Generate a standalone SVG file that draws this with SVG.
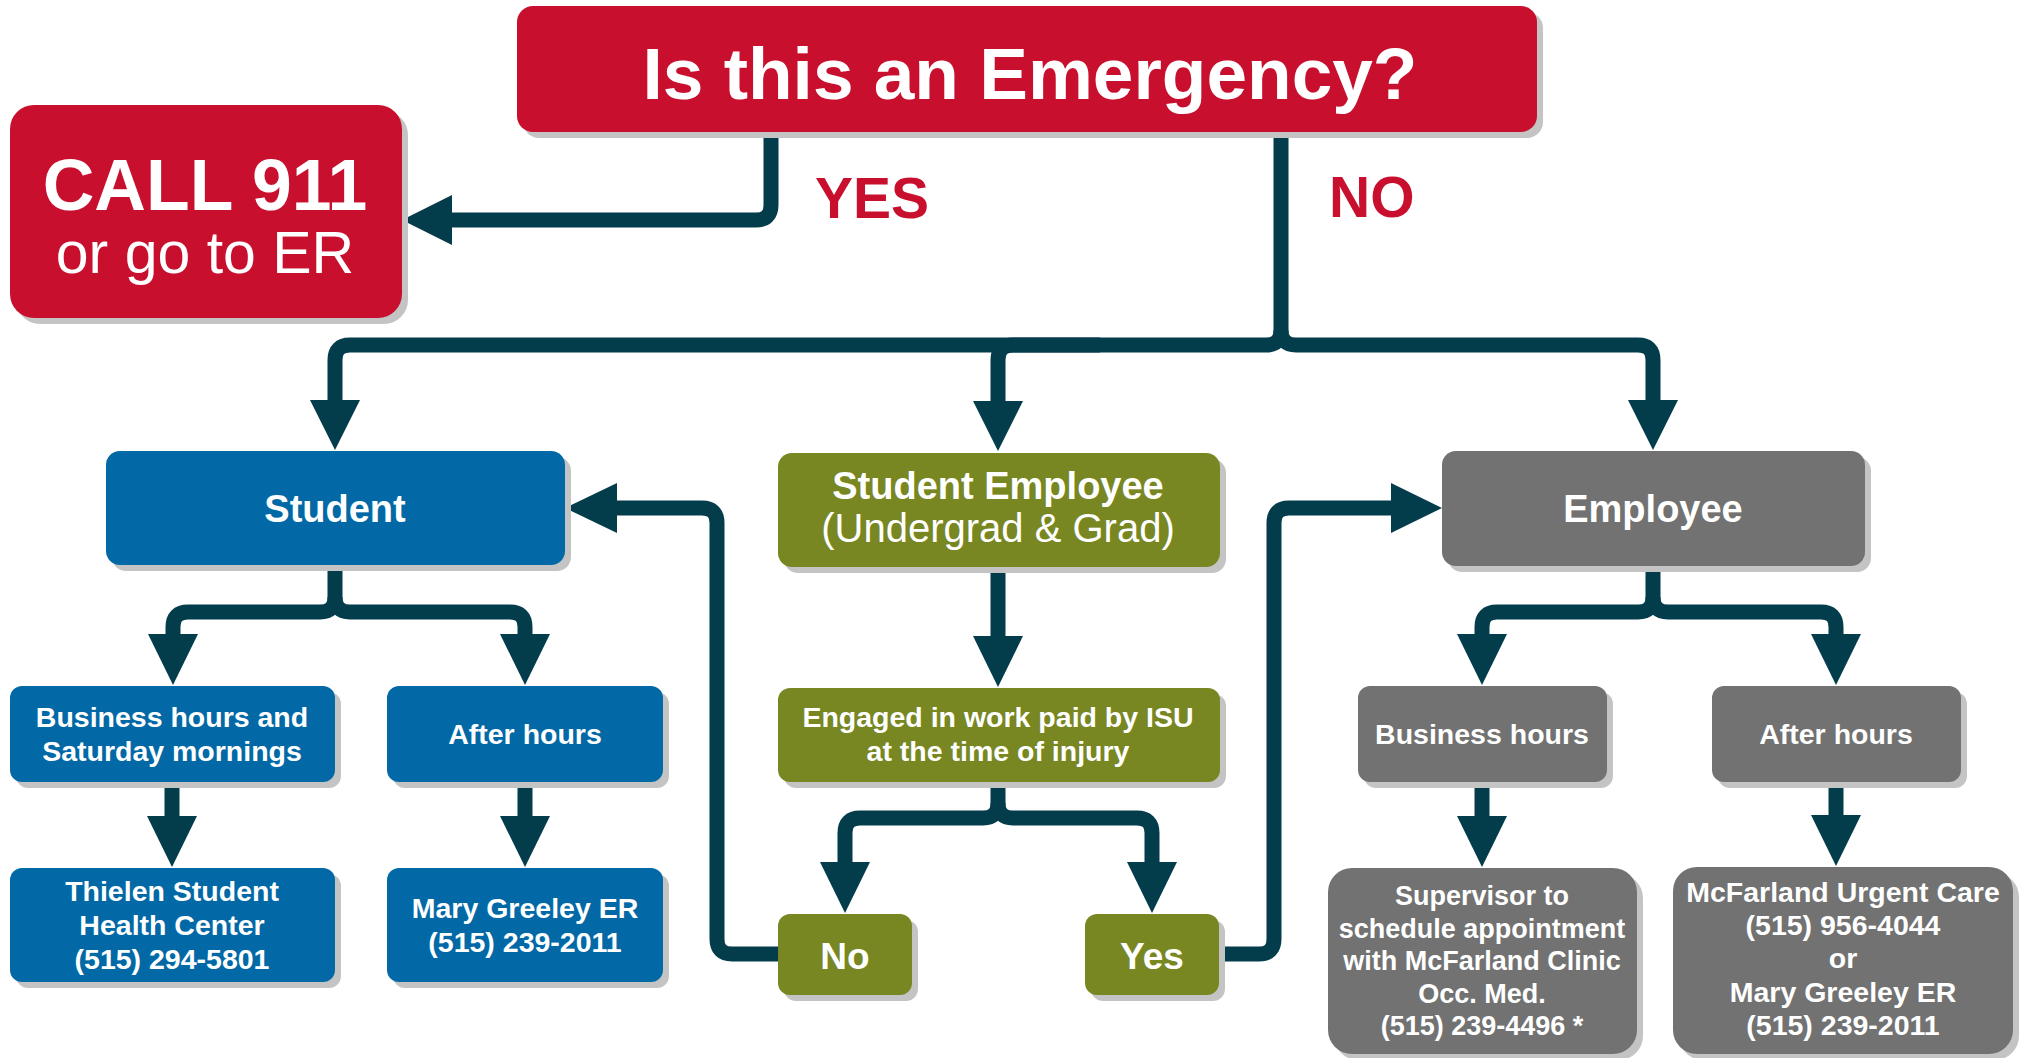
<svg xmlns="http://www.w3.org/2000/svg" width="2022" height="1058" viewBox="0 0 2022 1058">
<defs>
<style>
text{font-family:"Liberation Sans",Arial,Helvetica,sans-serif;fill:#ffffff;text-anchor:middle}
.b{font-weight:bold}
.sh{fill:#c4c4c4}
.red{fill:#c8102e}
.blue{fill:#0269a6}
.olive{fill:#788722}
.gray{fill:#717271}
.ln{fill:none;stroke:#033d4c;stroke-width:15}
.ah{fill:#033d4c}
.lbl{fill:#c8102e;font-weight:bold;font-size:57px;text-anchor:start}
.t28{font-size:28.5px;font-weight:bold}
</style>
</defs>
<rect width="2022" height="1058" fill="#ffffff"/>

<g id="connectors">
<path class="ln" d="M771 132 V205 Q771 220 756 220 H450"/>
<polygon class="ah" points="402,220 452,195 452,245"/>
<path class="ln" d="M1281 132 V330 Q1281 345 1266 345 H350 Q335 345 335 360 V402"/>
<path class="ln" d="M1281 330 Q1281 345 1296 345 H1638 Q1653 345 1653 360 V402"/>
<path class="ln" d="M1100 345 H1013 Q998 345 998 360 V402"/>
<polygon class="ah" points="335,450 310,400 360,400"/>
<polygon class="ah" points="998,451 973,401 1023,401"/>
<polygon class="ah" points="1653,450 1628,400 1678,400"/>
<path class="ln" d="M335 566 V597 Q335 612 320 612 H188 Q173 612 173 627 V636"/>
<path class="ln" d="M335 597 Q335 612 350 612 H510 Q525 612 525 627 V636"/>
<polygon class="ah" points="173,685 148,634 198,634"/>
<polygon class="ah" points="525,685 500,634 550,634"/>
<path class="ln" d="M998 567 V638"/>
<polygon class="ah" points="998,687 973,636 1023,636"/>
<path class="ln" d="M1653 566 V597 Q1653 612 1638 612 H1497 Q1482 612 1482 627 V636"/>
<path class="ln" d="M1653 597 Q1653 612 1668 612 H1821 Q1836 612 1836 627 V636"/>
<polygon class="ah" points="1482,685 1457,634 1507,634"/>
<polygon class="ah" points="1836,685 1811,634 1861,634"/>
<path class="ln" d="M172 782 V818"/>
<polygon class="ah" points="172,867 147,816 197,816"/>
<path class="ln" d="M525 782 V818"/>
<polygon class="ah" points="525,867 500,816 550,816"/>
<path class="ln" d="M1482 782 V818"/>
<polygon class="ah" points="1482,867 1457,816 1507,816"/>
<path class="ln" d="M1836 782 V818"/>
<polygon class="ah" points="1836,866 1811,815 1861,815"/>
<path class="ln" d="M998 782 V803 Q998 818 983 818 H860 Q845 818 845 833 V864"/>
<path class="ln" d="M998 803 Q998 818 1013 818 H1137 Q1152 818 1152 833 V864"/>
<polygon class="ah" points="845,913 820,862 870,862"/>
<polygon class="ah" points="1152,913 1127,862 1177,862"/>
<path class="ln" d="M780 954 H732 Q717 954 717 939 V523 Q717 508 702 508 H615"/>
<polygon class="ah" points="565,508 617,483 617,533"/>
<path class="ln" d="M1217 954 H1259 Q1274 954 1274 939 V523 Q1274 508 1289 508 H1393"/>
<polygon class="ah" points="1442,508 1391,483 1391,533"/>
<text class="lbl" x="815" y="218">YES</text>
<text class="lbl" x="1329" y="217">NO</text>
</g>

<g id="emergency">
<rect class="sh" x="523" y="12" width="1020" height="126" rx="16"/>
<rect class="red" x="517" y="6" width="1020" height="126" rx="16"/>
<text class="b" x="1030" y="99" font-size="73">Is this an Emergency?</text>
</g>

<g id="call911">
<rect class="sh" x="16" y="111" width="392" height="213" rx="24"/>
<rect class="red" x="10" y="105" width="392" height="213" rx="24"/>
<text class="b" x="205" y="210" font-size="71.5">CALL 911</text>
<text x="205" y="273" font-size="59">or go to ER</text>
</g>

<g id="student">
<rect class="sh" x="112" y="457" width="459" height="114" rx="14"/>
<rect class="blue" x="106" y="451" width="459" height="114" rx="14"/>
<text class="b" x="335" y="522" font-size="38">Student</text>
</g>

<g id="student-employee">
<rect class="sh" x="784" y="459" width="442" height="114" rx="14"/>
<rect class="olive" x="778" y="453" width="442" height="114" rx="14"/>
<text class="b" x="998" y="499" font-size="38">Student Employee</text>
<text x="998" y="542" font-size="40">(Undergrad &amp; Grad)</text>
</g>

<g id="employee">
<rect class="sh" x="1448" y="457" width="423" height="115" rx="14"/>
<rect class="gray" x="1442" y="451" width="423" height="115" rx="14"/>
<text class="b" x="1653" y="522" font-size="38">Employee</text>
</g>

<g id="student-business-hours">
<rect class="sh" x="16" y="692" width="325" height="96" rx="12"/>
<rect class="blue" x="10" y="686" width="325" height="96" rx="12"/>
<text class="t28" x="172" y="727">Business hours and</text>
<text class="t28" x="172" y="761">Saturday mornings</text>
</g>

<g id="student-after-hours">
<rect class="sh" x="393" y="692" width="276" height="96" rx="12"/>
<rect class="blue" x="387" y="686" width="276" height="96" rx="12"/>
<text class="t28" x="525" y="744">After hours</text>
</g>

<g id="engaged">
<rect class="sh" x="784" y="694" width="442" height="94" rx="12"/>
<rect class="olive" x="778" y="688" width="442" height="94" rx="12"/>
<text class="t28" x="998" y="727">Engaged in work paid by ISU</text>
<text class="t28" x="998" y="761">at the time of injury</text>
</g>

<g id="employee-business-hours">
<rect class="sh" x="1364" y="692" width="249" height="96" rx="12"/>
<rect class="gray" x="1358" y="686" width="249" height="96" rx="12"/>
<text class="t28" x="1482" y="744">Business hours</text>
</g>

<g id="employee-after-hours">
<rect class="sh" x="1718" y="692" width="249" height="96" rx="12"/>
<rect class="gray" x="1712" y="686" width="249" height="96" rx="12"/>
<text class="t28" x="1836" y="744">After hours</text>
</g>

<g id="thielen">
<rect class="sh" x="16" y="874" width="325" height="114" rx="12"/>
<rect class="blue" x="10" y="868" width="325" height="114" rx="12"/>
<text class="t28" x="172" y="901">Thielen Student</text>
<text class="t28" x="172" y="935">Health Center</text>
<text class="t28" x="172" y="969">(515) 294-5801</text>
</g>

<g id="mary-greeley-student">
<rect class="sh" x="393" y="874" width="276" height="114" rx="12"/>
<rect class="blue" x="387" y="868" width="276" height="114" rx="12"/>
<text class="t28" x="525" y="918">Mary Greeley ER</text>
<text class="t28" x="525" y="952">(515) 239-2011</text>
</g>

<g id="no">
<rect class="sh" x="784" y="920" width="134" height="81" rx="12"/>
<rect class="olive" x="778" y="914" width="134" height="81" rx="12"/>
<text class="b" x="845" y="969" font-size="37">No</text>
</g>

<g id="yes">
<rect class="sh" x="1091" y="920" width="134" height="81" rx="12"/>
<rect class="olive" x="1085" y="914" width="134" height="81" rx="12"/>
<text class="b" x="1152" y="969" font-size="37">Yes</text>
</g>

<g id="supervisor">
<rect class="sh" x="1334" y="874" width="309" height="186" rx="24"/>
<rect class="gray" x="1328" y="868" width="309" height="186" rx="24"/>
<text class="b" x="1482" y="905" font-size="27">Supervisor to</text>
<text class="b" x="1482" y="938" font-size="27">schedule appointment</text>
<text class="b" x="1482" y="970" font-size="27">with McFarland Clinic</text>
<text class="b" x="1482" y="1003" font-size="27">Occ. Med.</text>
<text class="b" x="1482" y="1035" font-size="27">(515) 239-4496 *</text>
</g>

<g id="mcfarland">
<rect class="sh" x="1679" y="873" width="340" height="187" rx="24"/>
<rect class="gray" x="1673" y="867" width="340" height="187" rx="24"/>
<text class="b" x="1843" y="902" font-size="28.5">McFarland Urgent Care</text>
<text class="b" x="1843" y="935" font-size="28.5">(515) 956-4044</text>
<text class="b" x="1843" y="968" font-size="28.5">or</text>
<text class="b" x="1843" y="1002" font-size="28.5">Mary Greeley ER</text>
<text class="b" x="1843" y="1035" font-size="28.5">(515) 239-2011</text>
</g>
</svg>
